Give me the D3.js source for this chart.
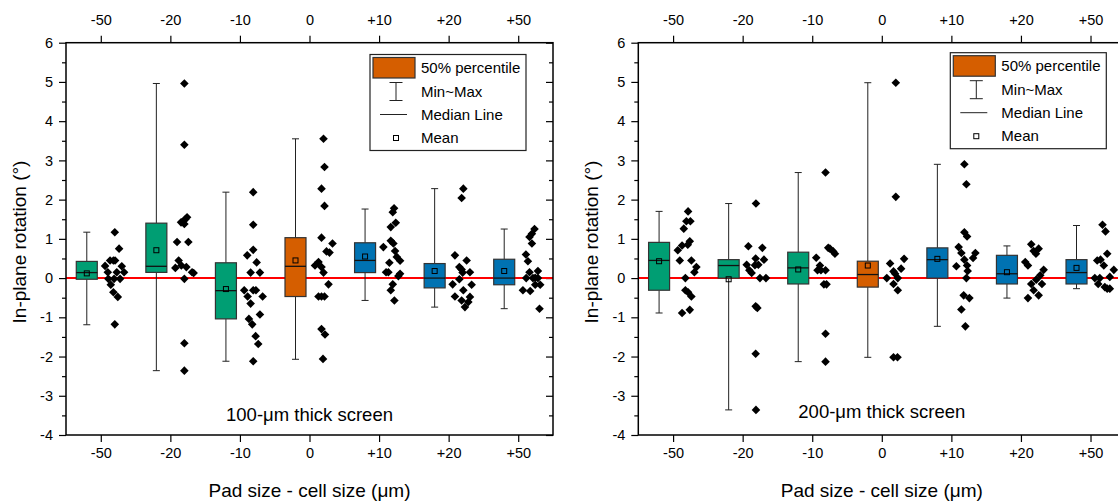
<!DOCTYPE html>
<html><head><meta charset="utf-8">
<script src="https://cdn.jsdelivr.net/npm/d3@7"></script>
<style>
body{margin:0;background:#fff}
svg text{font-family:'Liberation Sans',Arial,sans-serif;fill:#000}
</style>
</head><body>
<svg id="c" width="1118" height="501"></svg>
<script>
// ---------------- DATA ----------------
const categories = ["-50","-20","-10","0","+10","+20","+50"];
const boxColors = ["#009E73","#009E73","#009E73","#D55E00","#0072B2","#0072B2","#0072B2"];
const yMajorTicks = [-4,-3,-2,-1,0,1,2,3,4,5,6];
const yMinorTicks = [-3.5,-2.5,-1.5,-0.5,0.5,1.5,2.5,3.5,4.5,5.5];
const legendLabels = ["50% percentile","Min~Max","Median Line","Mean"];

// 100-um thick screen
const q1_100   = [-0.03, 0.145, -1.04, -0.47, 0.14, -0.25, -0.17];
const q3_100   = [0.425, 1.40, 0.39, 1.03, 0.90, 0.37, 0.48];
const med_100  = [0.14, 0.30, -0.32, 0.30, 0.45, 0.00, 0.00];
const mean_100 = [0.12, 0.71, -0.28, 0.45, 0.55, 0.18, 0.18];
const min_100  = [-1.19, -2.36, -2.12, -2.07, -0.57, -0.74, -0.78];
const max_100  = [1.17, 4.96, 2.19, 3.55, 1.76, 2.28, 1.25];
const pts_100 = [
  [1.17,0.75,0.31,0.45,0.45,0.45,0.15,0.15,0.30,0.15,-0.02,-0.02,-0.02,-0.17,-0.36,-0.48,-1.18],
  [4.96,3.40,1.55,1.50,1.45,1.42,1.38,0.92,0.92,0.45,0.26,0.32,0.28,0.15,0.13,-0.02,-1.66,-2.36],
  [2.19,1.36,0.72,0.58,0.40,0.14,0.14,-0.31,-0.31,-0.31,-0.47,-0.47,-0.65,-0.93,-1.04,-1.18,-1.48,-1.68,-2.12],
  [3.55,2.83,2.28,1.84,1.03,0.68,0.65,0.88,0.32,0.41,0.28,0.14,-0.16,-0.47,-0.47,-0.47,-1.30,-1.44,-2.06],
  [1.78,1.68,1.41,1.30,0.95,0.88,0.79,0.69,0.54,0.44,0.39,0.15,0.15,0.11,0.05,-0.16,-0.31,-0.57],
  [2.28,2.04,0.58,0.45,0.28,0.22,0.14,0.15,-0.03,-0.16,-0.17,-0.31,-0.47,-0.57,-0.48,-0.61,-0.74],
  [1.25,1.13,1.05,0.88,0.60,0.43,0.15,0.18,0.00,0.00,0.01,0.00,-0.17,-0.17,-0.31,-0.33,-0.78]
];
const jit_100 = [
  [0,0.43,-0.97,-0.47,-0.14,0.03,-0.7,0.2,0.7,0.93,-0.64,-0.07,0.53,-0.4,-0.14,0.3,0],
  [0,0,0.27,0.1,-0.13,-0.33,0,-0.73,0.4,-0.57,-0.9,-0.3,0.2,0.77,0.93,0,0,0],
  [-0.07,-0.07,-0.07,-0.67,0.27,-0.33,0.6,-0.97,-0.07,0.2,-0.63,0.87,-0.33,0.6,-0.5,-0.17,0.17,0.43,-0.07],
  [0,0.1,-0.2,0.1,-0.2,0.3,0.6,0.9,-0.85,-0.5,-0.2,0,0.5,-0.5,-0.2,0.1,-0.2,0.15,-0.05],
  [0.1,-0.03,0.27,-0.23,-0.23,0.03,-0.97,0.2,0.37,0.7,-0.37,-0.7,-0.47,0.7,0.53,-0.03,-0.23,0.13],
  [0.07,-0.1,-0.77,0.4,-0.33,-0.1,0,0.73,-0.33,-1.0,0.9,0.07,-0.77,-0.1,0.73,0.57,0.23],
  [0.23,-0.03,-0.27,-0.03,-0.63,-0.43,-0.27,0.57,-0.6,0.07,0.3,0.57,0.3,0.8,-0.93,-0.2,0.73]
];

// 200-um thick screen
const q1_200   = [-0.31, 0.00, -0.15, -0.23, 0.00, -0.15, -0.15];
const q3_200   = [0.91, 0.47, 0.66, 0.43, 0.77, 0.58, 0.47];
const med_200  = [0.45, 0.32, 0.26, 0.09, 0.47, 0.11, 0.14];
const mean_200 = [0.43, -0.03, 0.22, 0.32, 0.49, 0.15, 0.26];
const min_200  = [-0.89, -3.36, -2.13, -2.02, -1.23, -0.51, -0.27];
const max_200  = [1.70, 1.90, 2.69, 4.98, 2.90, 0.82, 1.34];
const pts_200 = [
  [1.70,1.45,1.45,1.26,0.94,0.85,0.83,0.71,0.45,0.45,0.28,0.15,0.00,-0.31,-0.36,-0.47,-0.81,-0.89],
  [1.90,0.81,0.77,0.50,0.47,0.34,0.20,0.13,0.33,0.34,0.00,0.00,-0.72,-0.76,-1.93,-3.36],
  [2.69,0.52,0.77,0.75,0.68,0.62,0.32,0.20,0.20,0.20,-0.16,-0.16,-1.42,-2.13],
  [4.98,2.07,0.49,0.37,0.24,0.17,0.11,0.00,0.00,-0.15,-0.31,-2.02,-2.02],
  [2.90,2.39,1.17,1.06,0.79,0.64,0.47,0.32,0.30,0.64,0.51,0.18,0.00,-0.44,-0.51,-0.80,-1.23],
  [0.86,0.69,0.62,0.75,0.41,0.32,0.21,0.07,-0.04,-0.15,-0.15,-0.31,-0.51,-0.44],
  [1.36,1.19,0.62,0.45,0.47,0.32,0.21,0.00,0.00,0.03,-0.15,-0.23,-0.27,-0.27]
];
const jit_200 = [
  [0.1,-0.07,0.33,-0.33,0.27,0.07,-0.5,-0.93,-0.73,0.43,0.93,0.73,-0.17,-0.17,0.1,0.43,0.27,-0.5],
  [-0.07,-0.83,0.57,-0.1,0.73,-1.0,-0.73,-0.5,-0.17,0.17,0.33,0.93,-0.1,0.07,-0.1,-0.07],
  [-0.07,-1.0,0.2,0.37,0.7,0.87,-0.63,-0.53,-0.87,-0.07,-0.23,0.03,-0.07,-0.07],
  [0,0,0.83,-0.57,0.53,-0.23,-0.07,-0.9,0.2,-0.23,0.2,-0.23,0.17],
  [-0.1,0.1,-0.1,0.17,-0.67,-0.4,-0.1,0.17,-0.9,1.0,0.77,0.23,0.1,-0.17,0.4,-0.4,0],
  [-0.37,-0.13,0.1,0.37,-0.97,-0.7,0.87,0.53,0.13,-0.37,0.7,-0.13,-0.7,0.37],
  [-0.2,0.1,0.27,-0.73,-0.4,-0.07,0.93,-0.97,-0.47,0.53,-0.63,0.03,0.27,0.53]
];

const panels = [
  {left:66, label:"100-μm thick screen", labelY:421, q1:q1_100,q3:q3_100,med:med_100,mean:mean_100,min:min_100,max:max_100,pts:pts_100,jit:jit_100, legend:{x:370,y:54.5}},
  {left:638.3, label:"200-μm thick screen", labelY:417.5, q1:q1_200,q3:q3_200,med:med_200,mean:mean_200,min:min_200,max:max_200,pts:pts_200,jit:jit_200, legend:{x:950.3,y:52.7}}
];

// ---------------- DRAW ----------------
const svg = d3.select("#c");
const W = 487, TOP = 42.7, BOTTOM = 435;
const boxOff = -14, boxW = 21, ptOff = 14, ptSpread = 10, capW = 7;
const fmt = d => String(d);
const diamond = r => `M0,${-r}L${r},0L0,${r}L${-r},0Z`;

panels.forEach(p => {
  const x = d3.scalePoint().domain(categories).range([p.left, p.left + W]).padding(0.5);
  const y = d3.scaleLinear().domain([-4, 6]).range([BOTTOM, TOP]);
  const g = svg.append("g");

  // axes
  const styleAxis = sel => {
    sel.select(".domain").remove();
    sel.selectAll("line").attr("stroke", "#000").attr("stroke-width", 1.2);
    sel.selectAll("text").style("font-size", "14.5px").attr("fill", "#000");
  };
  g.append("g").attr("transform", `translate(${p.left},0)`)
    .call(d3.axisLeft(y).tickValues(yMajorTicks).tickFormat(fmt).tickSize(7).tickPadding(6)).call(styleAxis);
  g.append("g").attr("transform", `translate(${p.left},0)`)
    .call(d3.axisLeft(y).tickValues(yMinorTicks).tickFormat("").tickSize(4)).call(styleAxis);
  g.append("g").attr("transform", `translate(${p.left + W},0)`)
    .call(d3.axisLeft(y).tickValues(yMajorTicks).tickFormat("").tickSize(7)).call(styleAxis);
  g.append("g").attr("transform", `translate(${p.left + W},0)`)
    .call(d3.axisLeft(y).tickValues(yMinorTicks).tickFormat("").tickSize(4)).call(styleAxis);
  g.append("g").attr("transform", `translate(0,${TOP})`)
    .call(d3.axisTop(x).tickSize(7).tickPadding(10.5)).call(styleAxis);
  g.append("g").attr("transform", `translate(0,${BOTTOM})`)
    .call(d3.axisBottom(x).tickSize(7).tickPadding(6)).call(styleAxis);

  // zero line
  g.append("line").attr("x1", p.left).attr("x2", p.left + W)
    .attr("y1", y(0)).attr("y2", y(0)).attr("stroke", "#ff0000").attr("stroke-width", 2);

  // whiskers
  categories.forEach((c, i) => {
    const cx = x(c) + boxOff;
    const wg = g.append("g").attr("stroke", "#222").attr("stroke-width", 1);
    wg.append("line").attr("x1", cx).attr("x2", cx).attr("y1", y(p.max[i])).attr("y2", y(p.q3[i]));
    wg.append("line").attr("x1", cx).attr("x2", cx).attr("y1", y(p.q1[i])).attr("y2", y(p.min[i]));
    wg.append("line").attr("x1", cx - capW/2).attr("x2", cx + capW/2).attr("y1", y(p.max[i])).attr("y2", y(p.max[i]));
    wg.append("line").attr("x1", cx - capW/2).attr("x2", cx + capW/2).attr("y1", y(p.min[i])).attr("y2", y(p.min[i]));
    g.append("rect").attr("x", cx - boxW/2).attr("width", boxW)
      .attr("y", y(p.q3[i])).attr("height", y(p.q1[i]) - y(p.q3[i]))
      .attr("fill", boxColors[i]).attr("stroke", "#333").attr("stroke-width", 1.2);
    g.append("line").attr("x1", cx - boxW/2).attr("x2", cx + boxW/2)
      .attr("y1", y(p.med[i])).attr("y2", y(p.med[i])).attr("stroke", "#111").attr("stroke-width", 1.3);
    g.append("rect").attr("x", cx - 2.5).attr("y", y(p.mean[i]) - 2.5).attr("width", 5).attr("height", 5)
      .attr("fill", "none").attr("stroke", "#000").attr("stroke-width", 1);
    // points
    g.append("g").selectAll("path").data(p.pts[i]).join("path")
      .attr("d", diamond(4.3))
      .attr("transform", (v, k) => `translate(${x(c) + ptOff + p.jit[i][k] * ptSpread},${y(v)})`)
      .attr("fill", "#000");
  });

  // frame
  g.append("rect").attr("x", p.left).attr("y", TOP).attr("width", W).attr("height", BOTTOM - TOP)
    .attr("fill", "none").attr("stroke", "#000").attr("stroke-width", 1.5);

  // annotation
  g.append("text").attr("x", p.left + W/2).attr("y", p.labelY).attr("text-anchor", "middle")
    .style("font-size", "18.5px").text(p.label);

  // axis titles
  g.append("text").attr("x", p.left + W/2).attr("y", 497).attr("text-anchor", "middle")
    .style("font-size", "19px").text("Pad size - cell size (μm)");
  g.append("text").attr("transform", `translate(${p.left - 40},242) rotate(-90)`).attr("text-anchor", "middle")
    .style("font-size", "19px").text("In-plane rotation (°)");

  // legend
  const L = p.legend;
  const lg = g.append("g").attr("transform", `translate(${L.x},${L.y})`);
  lg.append("rect").attr("width", 156).attr("height", 96).attr("fill", "#fff").attr("stroke", "#222").attr("stroke-width", 1.2);
  const rowY = [13.5, 37, 60, 83.5];
  lg.append("rect").attr("x", 3).attr("y", 3).attr("width", 42).attr("height", 20.5)
    .attr("fill", "#D55E00").attr("stroke", "#333").attr("stroke-width", 1.2);
  const lx = 26;
  lg.append("line").attr("x1", lx).attr("x2", lx).attr("y1", rowY[1] - 9).attr("y2", rowY[1] + 9).attr("stroke", "#222");
  lg.append("line").attr("x1", lx - 6.5).attr("x2", lx + 6.5).attr("y1", rowY[1] - 9).attr("y2", rowY[1] - 9).attr("stroke", "#222");
  lg.append("line").attr("x1", lx - 6.5).attr("x2", lx + 6.5).attr("y1", rowY[1] + 9).attr("y2", rowY[1] + 9).attr("stroke", "#222");
  lg.append("line").attr("x1", 10).attr("x2", 37).attr("y1", rowY[2]).attr("y2", rowY[2]).attr("stroke", "#222");
  lg.append("rect").attr("x", lx - 2.5).attr("y", rowY[3] - 2.5).attr("width", 5).attr("height", 5)
    .attr("fill", "none").attr("stroke", "#000");
  legendLabels.forEach((t, k) => {
    lg.append("text").attr("x", 51).attr("y", rowY[k]).attr("dy", "0.35em")
      .style("font-size", "15px").text(t);
  });
});
</script>
</body></html>
